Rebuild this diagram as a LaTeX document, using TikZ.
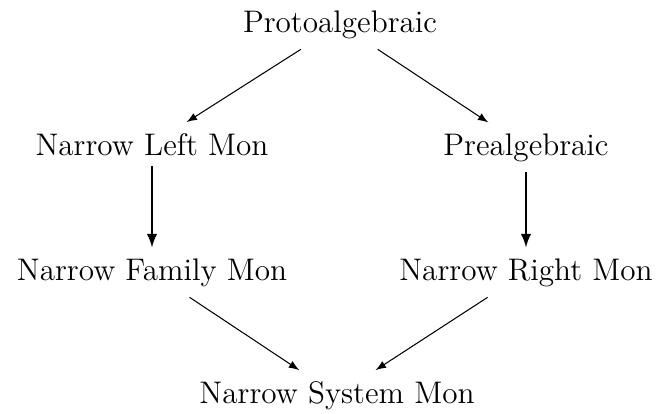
\documentclass[tikz,border=0pt,12pt]{standalone}
\usetikzlibrary{arrows}
\begin{document}
\begin{tikzpicture}[x=0.3846pt,y=-0.3846pt,
  lbl/.style={anchor=base, font=\normalsize},
  thin arrow/.style={-latex, line width=0.4pt},
  bold arrow/.style={-latex, line width=0.8pt}]
\useasboundingbox (0,0) rectangle (657,413);
\node[lbl] (p) at (340,32) {Protoalgebraic};
\node[lbl] (l) at (152,155) {Narrow Left Mon};
\node[lbl] (q) at (526,155) {Prealgebraic};
\node[lbl] (f) at (152,280) {Narrow Family Mon};
\node[lbl] (r) at (526,280) {Narrow Right Mon};
\node[lbl] (s) at (337,403) {Narrow System Mon};
\draw[thin arrow] (p) -- (l);
\draw[thin arrow] (p) -- (q);
\draw[bold arrow] (l) -- (f);
\draw[bold arrow] (q) -- (r);
\draw[thin arrow] (f) -- (s);
\draw[thin arrow] (r) -- (s);
\end{tikzpicture}
\end{document}
